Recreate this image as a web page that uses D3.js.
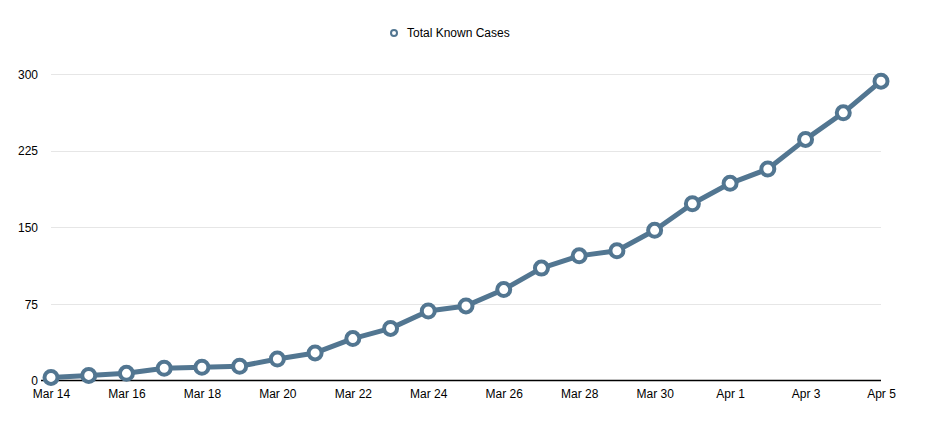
<!DOCTYPE html>
<html>
<head>
<meta charset="utf-8">
<script src="https://cdn.jsdelivr.net/npm/d3@7"></script>
<style>
  html, body { margin: 0; padding: 0; background: #fff; }
  svg text { font-family: "Liberation Sans", Arial, Helvetica, sans-serif; font-size: 12px; fill: #000; }
</style>
</head>
<body>
<svg id="chart" width="931" height="421"></svg>
<script>
const dates = ["2020-03-14","2020-03-15","2020-03-16","2020-03-17","2020-03-18","2020-03-19","2020-03-20","2020-03-21","2020-03-22","2020-03-23","2020-03-24","2020-03-25","2020-03-26","2020-03-27","2020-03-28","2020-03-29","2020-03-30","2020-03-31","2020-04-01","2020-04-02","2020-04-03","2020-04-04","2020-04-05"];
const totalKnownCases = [3, 5, 7, 12, 13, 14, 21, 27, 41, 51, 68, 73, 89, 110, 122, 127, 147, 173, 193, 207, 236, 262, 293];
const yTicks = [0, 75, 150, 225, 300];
const seriesName = "Total Known Cases";

const color = "#527691";
const svg = d3.select("#chart");
const margin = { left: 51, right: 50, top: 74, bottom: 40 };
const W = 931, H = 421;
const parse = d3.utcParse("%Y-%m-%d");
const data = dates.map((d, i) => ({ date: parse(d), value: totalKnownCases[i] }));

const x = d3.scaleUtc()
  .domain(d3.extent(data, d => d.date))
  .range([margin.left, W - margin.right]);
const y = d3.scaleLinear()
  .domain([0, 300])
  .range([380.5, 74]);

// grid
svg.append("g")
  .selectAll("line")
  .data(yTicks.filter(t => t > 0))
  .join("line")
  .attr("x1", margin.left).attr("x2", W - margin.right)
  .attr("y1", d => Math.round(y(d)) + 0.5).attr("y2", d => Math.round(y(d)) + 0.5)
  .attr("stroke", "#e6e6e6").attr("stroke-width", 1);

// y axis labels
const yAxis = d3.axisLeft(y).tickValues(yTicks).tickSize(0).tickPadding(0);
const gy = svg.append("g").attr("transform", `translate(${margin.left - 13},0)`).call(yAxis);
gy.select(".domain").remove();
gy.selectAll("text").style("font-size", "12px").attr("fill", "#000").attr("dy", "0.35em");

// x axis
const xTickDates = dates.filter((d, i) => i % 2 === 0).map(parse);
const xAxis = d3.axisBottom(x).tickValues(xTickDates).tickSize(0).tickPadding(7)
  .tickFormat(d => d3.utcFormat("%b %-d")(d));
const gx = svg.append("g").attr("transform", `translate(0,${y(0)})`).call(xAxis);
gx.select(".domain").attr("stroke", "#000").attr("stroke-width", 1.5)
  .attr("d", `M${margin.left - 10},0H${W - margin.right}`);
gx.selectAll("text").style("font-size", "12px").attr("fill", "#000").attr("dy", "0.85em");

// line
const line = d3.line().x(d => x(d.date)).y(d => y(d.value));
svg.append("path").datum(data)
  .attr("fill", "none").attr("stroke", color)
  .attr("stroke-width", 5).attr("stroke-linejoin", "round")
  .attr("d", line);

svg.append("g").selectAll("circle").data(data).join("circle")
  .attr("cx", d => x(d.date)).attr("cy", d => y(d.value))
  .attr("r", 6.5).attr("fill", "#fff")
  .attr("stroke", color).attr("stroke-width", 4);

// legend
const lg = svg.append("g").attr("transform", "translate(394,33)");
lg.append("circle").attr("r", 3).attr("fill", "#fff").attr("stroke", color).attr("stroke-width", 2);
lg.append("text").attr("x", 13).attr("dy", "0.35em").text(seriesName).style("font-size", "12px");
</script>
</body>
</html>
